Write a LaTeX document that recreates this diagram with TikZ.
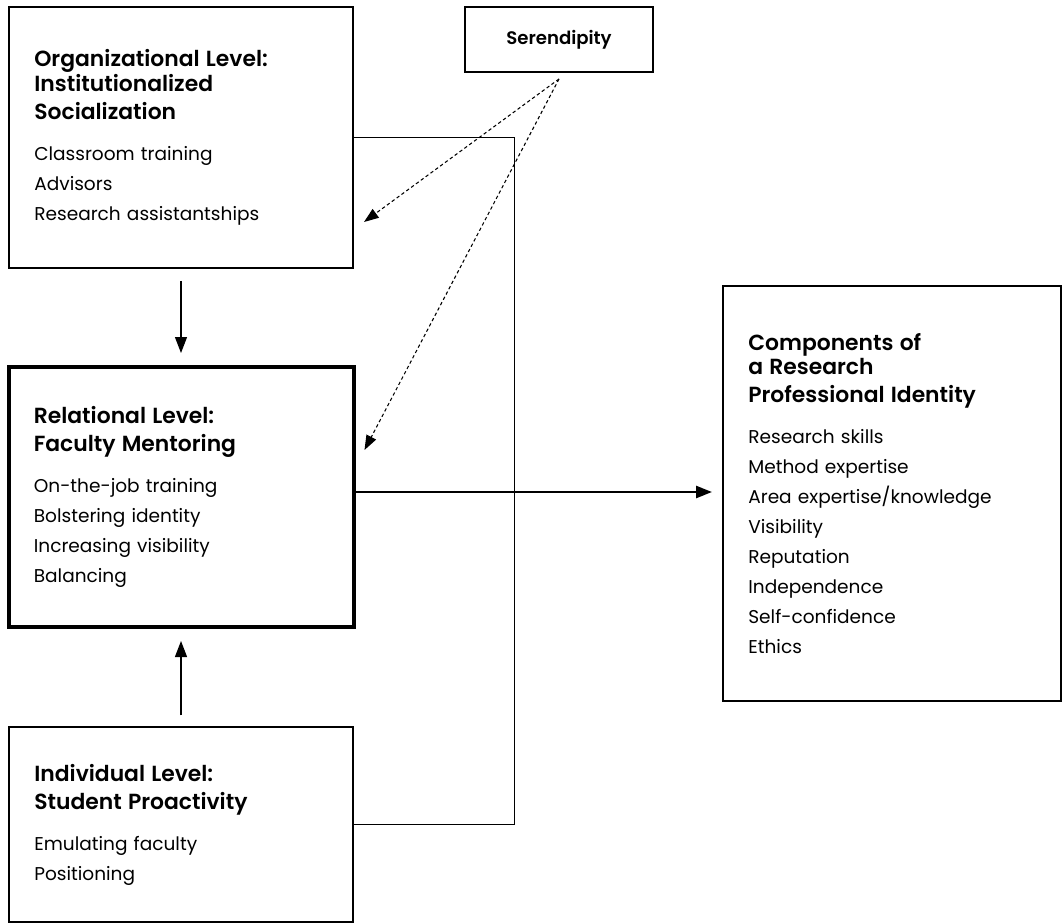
\documentclass[tikz,border=0pt]{standalone}
\usepackage{fontspec}
\setmainfont{Poppins}[BoldFont={Poppins SemiBold}]
\usetikzlibrary{arrows.meta,positioning}

\newcommand{\itemfont}{\fontsize{13.9}{22.5}\selectfont}
\newcommand{\ttlfont}{\fontsize{16.4}{20}\selectfont\bfseries}
\newcommand{\serfont}{\fontsize{13.6}{16}\selectfont\bfseries}
\newcommand{\ttl}[1]{{\ttlfont #1}\\[8.25pt]}

\begin{document}
\begin{tikzpicture}[x=0.75pt,y=-0.75pt,>={Triangle[length=12pt,width=9pt]},
    box/.style={draw,line width=1.5pt,align=left,inner xsep=19pt,inner ysep=0pt,
                font=\itemfont,anchor=north west},
    link/.style={line width=0.9pt},
    hunch/.style={dash pattern=on 2.5pt off 2pt,line width=0.8pt,
                  -{Triangle[length=11pt,width=8pt]}}]
  \useasboundingbox (0,0) rectangle (1062,923);
  % levels
  \node[box,text width=220pt,minimum height=195.75pt] (org) at (8,6)
    {\ttl{Organizational Level:\\[-1.5pt]Institutionalized\\[-1.5pt]Socialization}%
     Classroom training\\Advisors\\Research assistantships};
  \node[box,line width=3pt,text width=220.75pt,minimum height=195pt,below=72pt of org] (rel)
    {\ttl{Relational Level:\\[-1.5pt]Faculty Mentoring}%
     On-the-job training\\Bolstering identity\\Increasing visibility\\Balancing};
  \node[box,text width=220pt,minimum height=146.25pt,below=72.75pt of rel] (ind)
    {\ttl{Individual Level:\\[-1.5pt]Student Proactivity}%
     Emulating faculty\\Positioning};
  \node[box,minimum width=141pt,minimum height=48.75pt,font=\serfont] (seren) at (464,6) {Serendipity};
  % outcome
  \node[box,text width=215.5pt,minimum height=311.25pt] (comp) at (722,285)
    {\ttl{Components of\\[-1.5pt]a Research\\[-1.5pt]Professional Identity}%
     Research skills\\Method expertise\\Area expertise/knowledge\\Visibility\\
     Reputation\\Independence\\Self-confidence\\Ethics};
  % connectors
  \draw[link,->,shorten <=9pt,shorten >=9pt] (org) -- (rel);
  \draw[link,->,shorten <=8pt,shorten >=9pt] (ind) -- (rel);
  \path ([yshift=3.75pt]rel.east) ++(159,0) coordinate (jn);
  \draw[link] (org.east) -| (jn) |- (ind.east);
  \draw[link] (jn -| rel.east) -- (jn);
  \draw[line width=1.9pt,->,shorten >=7.5pt] (jn) -- (jn -| comp.west);
  \coordinate (src) at ([yshift=-4.5pt]seren.south);
  \draw[hunch] (src) -- ([shift={(10,-47)}]org.south east);
  \draw[hunch] (src) -- ([shift={(9,-47)}]rel.east);
\end{tikzpicture}
\end{document}
